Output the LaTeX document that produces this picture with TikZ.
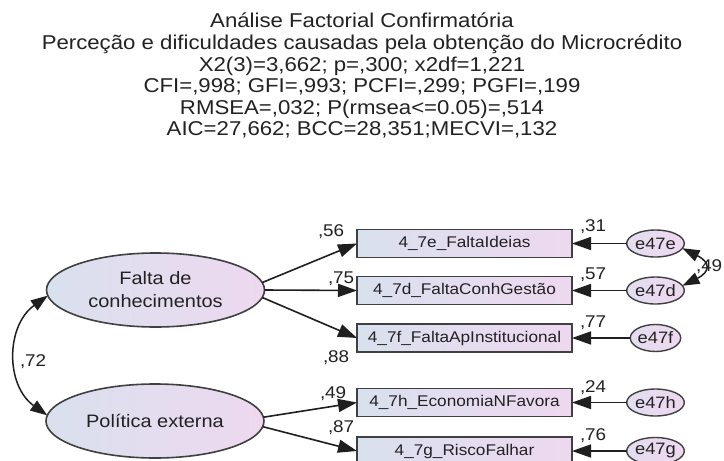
\documentclass[tikz,border=0pt]{standalone}
\usepackage{fontspec}
\setmainfont{Liberation Sans}[FakeStretch=1.11]
\usetikzlibrary{arrows.meta,shapes.geometric}
\definecolor{shadeL}{HTML}{D9E1EE}
\definecolor{shadeR}{HTML}{EED8F0}
\definecolor{edgegray}{HTML}{404040}
\definecolor{inkgray}{HTML}{222222}

\begin{document}
\begin{tikzpicture}[x=1pt,y=-1pt,
  every node/.style={inner sep=0pt, outer sep=0pt},
  titletext/.style={font=\fontsize{20}{22}\selectfont, text=inkgray, anchor=base},
  latent/.style={ellipse, draw=edgegray, line width=1.6pt, left color=shadeL, right color=shadeR,
    minimum width=218pt, minimum height=74pt, align=center,
    font=\fontsize{18}{23}\selectfont, text=inkgray},
  observed/.style={rectangle, draw=edgegray, line width=1.6pt, left color=shadeL, right color=shadeR,
    minimum width=215pt, minimum height=28pt, font=\fontsize{15.5}{18}\selectfont, text=inkgray},
  errterm/.style={ellipse, draw=edgegray, line width=1.4pt, left color=shadeL!50!shadeR, right color=shadeR,
    minimum width=49pt, minimum height=27pt, font=\fontsize{16.5}{18}\selectfont, text=inkgray},
  coef/.style={anchor=base west, font=\fontsize{17}{20}\selectfont, text=inkgray},
  regpath/.style={draw=black!88, line width=1.6pt, -{Triangle[length=19pt,width=13pt]}},
  covpath/.style={draw=black!88, line width=1.5pt,
    {Triangle[length=17pt,width=12pt]}-{Triangle[length=17pt,width=12pt]}},
]
\useasboundingbox (0,0) rectangle (724,461);
\fill[white] (0,0) rectangle (724,461);
\clip (0,0) rectangle (724,461);

% heading with fit statistics
\node[titletext] (t1) at (362,27)  {Análise Factorial Confirmatória};
\node[titletext] (t2) at (362,49)  {Perceção e dificuldades causadas pela obtenção do Microcrédito};
\node[titletext] (t3) at (362,71)  {X2(3)=3,662; p=,300; x2df=1,221};
\node[titletext] (t4) at (362,92)  {CFI=,998; GFI=,993; PCFI=,299; PGFI=,199};
\node[titletext] (t5) at (362,114) {RMSEA=,032; P(rmsea<=0.05)=,514};
\node[titletext] (t6) at (362,135) {AIC=27,662; BCC=28,351;MECVI=,132};

% latent factors
\node[latent] (F) at (155.5,290) {Falta de\\conhecimentos};
\node[latent] (P) at (155,421) {Política externa};

% observed indicators
\node[observed] (b1) at (464.5,243.5) {4\_7e\_FaltaIdeias};
\node[observed] (b2) at (464.5,290.5) {4\_7d\_FaltaConhGestão};
\node[observed] (b3) at (464.5,338)   {4\_7f\_FaltaApInstitucional};
\node[observed] (b4) at (464.5,402.5) {4\_7h\_EconomiaNFavora};
\node[observed] (b5) at (464.5,451)   {4\_7g\_RiscoFalhar};

% error terms
\node[errterm] (e1) at (655.5,243.5) {e47e};
\node[errterm] (e2) at (655.5,290.5) {e47d};
\node[errterm] (e3) at (655.5,338)   {e47f};
\node[errterm] (e4) at (655.5,402.5) {e47h};
\node[errterm] (e5) at (655.5,451)   {e47g};

% loadings
\draw[regpath] (F.4)  -- (b1.west);
\draw[regpath] (F.0)  -- (b2.west);
\draw[regpath] (F.-4) -- (b3.west);
\draw[regpath] (P.2)  -- (b4.west);
\draw[regpath] (P.-3) -- (b5.west);

% error paths
\foreach \i in {1,...,5} \draw[regpath] (e\i.west) -- (b\i.east);

% covariances
\draw[covpath] (F.183) .. controls +(-42,30) and +(-42,-30) .. (P.177);
\draw[covpath] (e1.-10) .. controls +(28,14) and +(28,-14) .. (e2.10);

% standardized estimates
\node[coef] (c56) at (318,236) {,56};
\node[coef] (c75) at (328,283) {,75};
\node[coef] (c88) at (323,362) {,88};
\node[coef] (c49) at (320,398) {,49};
\node[coef] (c87) at (328,432) {,87};
\node[coef] (c31) at (580,231) {,31};
\node[coef] (c57) at (580,279) {,57};
\node[coef] (c77) at (580,327) {,77};
\node[coef] (c24) at (580,392) {,24};
\node[coef] (c76) at (580,440) {,76};
\node[coef] (c49b) at (696,271) {,49};
\node[coef] (c72) at (20,366) {,72};
\end{tikzpicture}
\end{document}
